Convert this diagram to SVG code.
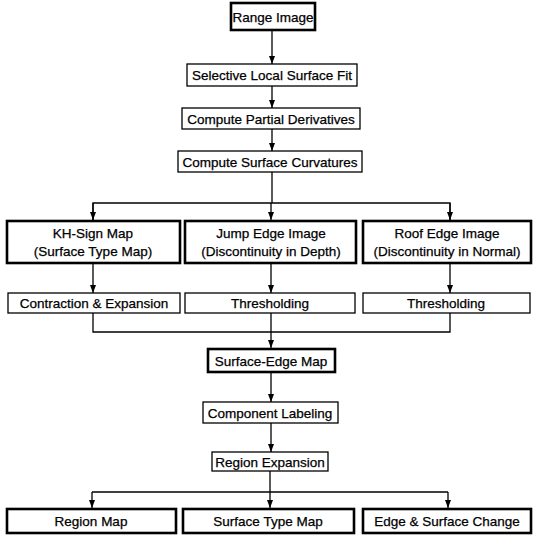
<svg xmlns="http://www.w3.org/2000/svg" width="533" height="539" viewBox="0 0 533 539">
<style>
.thick{fill:#fff;stroke:#000;stroke-width:2.6}
.thin{fill:#fff;stroke:#000;stroke-width:1.3}
text{font-family:"Liberation Sans",Arial,sans-serif;font-size:13.5px;fill:#000;stroke:#000;stroke-width:0.25;text-anchor:middle}
.c line,.c polyline{stroke:#000;stroke-width:1.3;fill:none}
</style>
<defs>
<marker id="ah" viewBox="0 0 8 10" refX="8" refY="5" markerWidth="8" markerHeight="10" markerUnits="userSpaceOnUse" orient="auto">
<path d="M0,2 L8,5 L0,8 z" fill="#000"/>
</marker>
</defs>
<g class="c" id="connectors">
<line x1="272" y1="30" x2="272" y2="64" marker-end="url(#ah)"/>
<line x1="272" y1="86" x2="272" y2="108" marker-end="url(#ah)"/>
<line x1="272" y1="129" x2="272" y2="151" marker-end="url(#ah)"/>
<line x1="272" y1="172" x2="272" y2="203"/>
<polyline points="93,221 93,203 450,203 450,221"/>
<line x1="93" y1="203" x2="93" y2="220" marker-end="url(#ah)"/>
<line x1="271" y1="203" x2="271" y2="220" marker-end="url(#ah)"/>
<line x1="450" y1="203" x2="450" y2="220" marker-end="url(#ah)"/>
<line x1="93" y1="263" x2="93" y2="293" marker-end="url(#ah)"/>
<line x1="271" y1="263" x2="271" y2="293" marker-end="url(#ah)"/>
<line x1="450" y1="263" x2="450" y2="293" marker-end="url(#ah)"/>
<polyline points="93,313 93,332 450,332 450,313"/>
<line x1="271" y1="313" x2="271" y2="348" marker-end="url(#ah)"/>
<line x1="271" y1="372" x2="271" y2="402" marker-end="url(#ah)"/>
<line x1="271" y1="423" x2="271" y2="452" marker-end="url(#ah)"/>
<line x1="270" y1="471" x2="270" y2="492"/>
<polyline points="92,492 448,492"/>
<line x1="92" y1="492" x2="92" y2="508" marker-end="url(#ah)"/>
<line x1="270" y1="492" x2="270" y2="508" marker-end="url(#ah)"/>
<line x1="448" y1="492" x2="448" y2="508" marker-end="url(#ah)"/>
</g>
<g id="range-image"><rect class="thick" x="231" y="3" width="84" height="27"/><text x="273" y="21.5">Range Image</text></g>
<g id="local-fit"><rect class="thin" x="187" y="64" width="170" height="22"/><text x="272" y="80">Selective Local Surface Fit</text></g>
<g id="partial"><rect class="thin" x="182" y="108" width="178" height="21"/><text x="271" y="123.5">Compute Partial Derivatives</text></g>
<g id="curvatures"><rect class="thin" x="178" y="151" width="184" height="21"/><text x="270" y="166.5">Compute Surface Curvatures</text></g>
<g id="kh-sign"><rect class="thick" x="7" y="221" width="173" height="42"/><text x="93" y="238">KH-Sign Map</text><text x="93" y="256">(Surface Type Map)</text></g>
<g id="jump-edge"><rect class="thick" x="185" y="221" width="171" height="42"/><text x="271" y="238">Jump Edge Image</text><text x="271" y="256">(Discontinuity in Depth)</text></g>
<g id="roof-edge"><rect class="thick" x="363" y="221" width="168" height="42"/><text x="447" y="238">Roof Edge Image</text><text x="447" y="256">(Discontinuity in Normal)</text></g>
<g id="contraction"><rect class="thin" x="8" y="293" width="172" height="20"/><text x="94" y="308">Contraction &amp; Expansion</text></g>
<g id="thresh-1"><rect class="thin" x="185" y="293" width="170" height="20"/><text x="270" y="308">Thresholding</text></g>
<g id="thresh-2"><rect class="thin" x="363" y="293" width="167" height="20"/><text x="446" y="308">Thresholding</text></g>
<g id="surface-edge"><rect class="thick" x="208" y="349" width="127" height="23"/><text x="271" y="365.5">Surface-Edge Map</text></g>
<g id="component"><rect class="thin" x="203" y="402" width="135" height="21"/><text x="270" y="417.5">Component Labeling</text></g>
<g id="region-exp"><rect class="thin" x="212" y="452" width="116" height="19"/><text x="270" y="466.5">Region Expansion</text></g>
<g id="region-map"><rect class="thick" x="7" y="509" width="169" height="24"/><text x="91" y="526">Region Map</text></g>
<g id="surface-type"><rect class="thick" x="183" y="509" width="171" height="24"/><text x="268" y="526">Surface Type Map</text></g>
<g id="edge-change"><rect class="thick" x="363" y="509" width="168" height="24"/><text x="447" y="526">Edge &amp; Surface Change</text></g>
</svg>
